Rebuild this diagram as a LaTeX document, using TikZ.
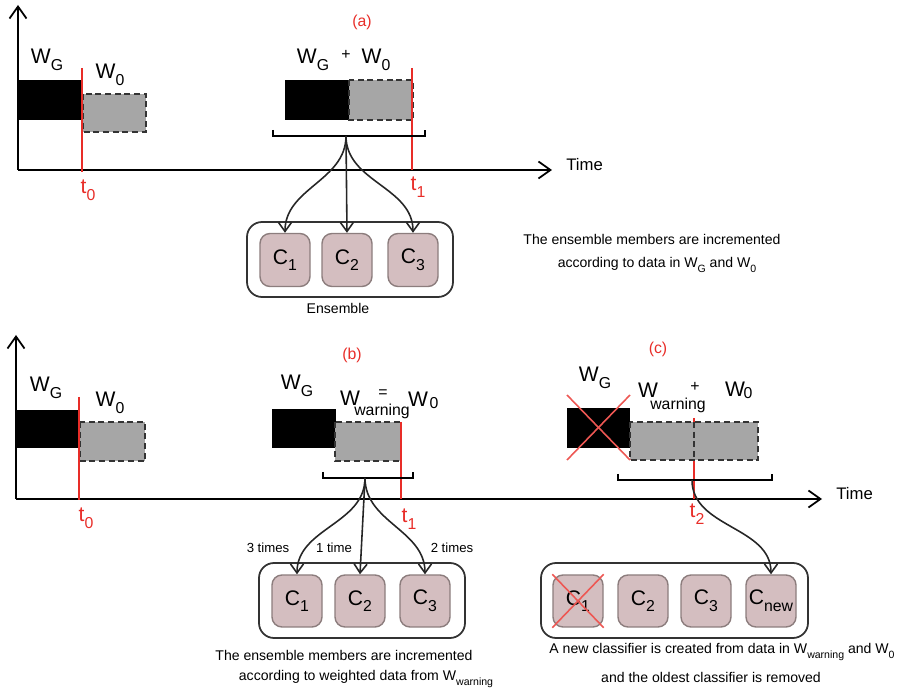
\documentclass[tikz,border=0pt]{standalone}
\usepackage{fontspec}
\setmainfont{Liberation Sans}
\usetikzlibrary{arrows.meta}

\newcommand{\lowsub}[1]{\raisebox{-0.6ex}{\scalebox{0.75}{#1}}}

\definecolor{tred}{RGB}{232,45,40}
\definecolor{wingray}{RGB}{166,166,166}
\definecolor{clsfill}{RGB}{212,190,192}
\definecolor{clsdraw}{RGB}{140,125,125}

\begin{document}
\begin{tikzpicture}[x=0.2mm, y=-0.2mm,
axis/.style={-{Straight Barb[length=2.4mm,width=3.4mm]}, line width=1pt},
old_win/.style={fill=black},
new_win/.style={fill=wingray, draw=black!80, line width=0.9pt, dash pattern=on 3.5pt off 2pt},
time_line/.style={draw=tred, line width=1pt},
bracket/.style={draw=black, line width=1pt},
cross/.style={draw=tred!80, line width=0.9pt},
cls/.style={rectangle, rounded corners=2mm, draw=clsdraw, fill=clsfill, line width=0.8pt, inner sep=0pt, minimum width=10mm, minimum height=10.6mm, font=\fontsize{12}{14}\selectfont},
ensemble/.style={rectangle, rounded corners=3mm, draw=black!80, line width=1pt, inner sep=0pt, minimum height=15mm},
grow_arrow/.style={-{Straight Barb[length=1.8mm,width=2.6mm]}, line width=0.9pt, black!85},
win_text/.style={font=\fontsize{12}{14}\selectfont, inner sep=0pt},
sub_text/.style={font=\fontsize{9}{11}\selectfont, inner sep=0pt},
red_text/.style={text=tred, font=\fontsize{12}{14}\selectfont, inner sep=0pt},
panel_text/.style={text=tred, font=\fontsize{9}{11}\selectfont, inner sep=0pt},
note/.style={font=\fontsize{8}{10}\selectfont, inner sep=0pt},
time_text/.style={font=\fontsize{9.5}{11}\selectfont, inner sep=0pt}
]
\useasboundingbox (0,0) rectangle (897,694);

% ---------------- (a) ----------------
\coordinate (orig_a) at (18,170);
\coordinate (yend_a) at (18,5);
\coordinate (xend_a) at (552,170);
\draw[axis] (orig_a) -- (yend_a);
\draw[axis] (orig_a) -- (xend_a);
\node[time_text, anchor=west] (time_a) at (566,165) {Time};
\node[panel_text] (panel_a) at (362,22) {(a)};

\fill[old_win] (18,80) rectangle (82,120);
\draw[new_win] (83,94) rectangle (146,132);
\draw[time_line] (82,68) -- (82,172);
\node[win_text] (wg_a1) at (47,60) {W\lowsub{G}};
\node[win_text] (w0_a1) at (110,75) {W\lowsub{0}};
\node[red_text] (t0_a) at (88,190) {t\lowsub{0}};

\fill[old_win] (285,80) rectangle (349,120);
\draw[new_win] (349,80) rectangle (413,120);
\draw[time_line] (412,68) -- (412,170);
\node[win_text] (wg_a2) at (313,60) {W\lowsub{G}};
\node[sub_text] (plus_a) at (346,55) {+};
\node[win_text] (w0_a2) at (376,60) {W\lowsub{0}};
\node[red_text] (t1_a) at (418,187) {t\lowsub{1}};

\draw[bracket] (273,130) -- (273,136) -- (425,136) -- (425,130);
\coordinate (br_a) at (346,136);

\node[ensemble, minimum width=41.2mm] (ens_a) at (350,259.5) {};
\node[cls] (c1_a) at (285,260) {C\lowsub{1}};
\node[cls] (c2_a) at (347,260) {C\lowsub{2}};
\node[cls] (c3_a) at (413,260) {C\lowsub{3}};
\node[note] (ens_lbl) at (338,308) {Ensemble};

\draw[grow_arrow] (br_a) to[out=-90, in=90] (c1_a.north);
\draw[grow_arrow] (br_a) -- (c2_a.north);
\draw[grow_arrow] (br_a) to[out=-90, in=90] (c3_a.north);

\node[note] (note_a1) at (652,239) {The ensemble members are incremented};
\node[note] (note_a2) at (657,265) {according to data in W\lowsub{G} and W\lowsub{0}};

% ---------------- (b) and (c) ----------------
\coordinate (orig_b) at (16,499);
\coordinate (yend_b) at (16,335);
\coordinate (xend_b) at (822,499);
\draw[axis] (orig_b) -- (yend_b);
\draw[axis] (orig_b) -- (xend_b);
\node[time_text, anchor=west] (time_b) at (836,494) {Time};
\node[panel_text] (panel_b) at (352,355) {(b)};
\node[panel_text] (panel_c) at (658,349) {(c)};

\fill[old_win] (16,410) rectangle (79,448);
\draw[new_win] (80,422) rectangle (145,461);
\draw[time_line] (79,397) -- (79,500);
\node[win_text] (wg_b1) at (46,388) {W\lowsub{G}};
\node[win_text] (w0_b1) at (110,403) {W\lowsub{0}};
\node[red_text] (t0_b) at (86,518) {t\lowsub{0}};

% (b) window
\fill[old_win] (272,409) rectangle (336,448);
\draw[new_win] (335,422) rectangle (401,461);
\draw[time_line] (401,422) -- (401,499);
\node[win_text] (wg_b2) at (297,386) {W\lowsub{G}};
\node[win_text] (ww_b) at (350,398) {W};
\node[sub_text] (eq_b) at (383,394) {=};
\node[sub_text] (wsub_b) at (382,411) {warning};
\node[win_text] (w_b) at (418,399) {W};
\node[sub_text] (zero_b) at (434,403) {0};
\node[red_text] (t1_b) at (409,519) {t\lowsub{1}};

\draw[bracket] (323,472) -- (323,478) -- (413,478) -- (413,472);
\coordinate (br_b) at (365,478);

\node[ensemble, minimum width=41.2mm] (ens_b) at (362,600.5) {};
\node[cls, minimum height=10.4mm] (c1_b) at (297,601) {C\lowsub{1}};
\node[cls, minimum height=10.4mm] (c2_b) at (360,601) {C\lowsub{2}};
\node[cls, minimum height=10.4mm] (c3_b) at (425,601) {C\lowsub{3}};

\draw[grow_arrow] (br_b) to[out=-90, in=90] (c1_b.north);
\draw[grow_arrow] (br_b) -- (c2_b.north);
\draw[grow_arrow] (br_b) to[out=-90, in=90] (c3_b.north);
\node[note, font=\fontsize{7.5}{9}\selectfont] (times_1) at (268,548) {3 times};
\node[note, font=\fontsize{7.5}{9}\selectfont] (times_2) at (334,548) {1 time};
\node[note, font=\fontsize{7.5}{9}\selectfont] (times_3) at (452,548) {2 times};

\node[note] (note_b1) at (344,655) {The ensemble members are incremented};
\node[note] (note_b2) at (366,679) {according to weighted data from W\lowsub{warning}};

% (c) window
\fill[old_win] (567,408) rectangle (630,448);
\draw[new_win] (630,422) rectangle (758,460);
\draw[black!80, line width=0.9pt, dash pattern=on 3.5pt off 2pt] (694,422) -- (694,460);
\draw[cross] (567,395) -- (630,460);
\draw[cross] (630,395) -- (567,460);
\draw[time_line] (694,418) -- (694,422);
\draw[time_line] (694,461) -- (694,499);
\node[win_text] (wg_c) at (595,378) {W\lowsub{G}};
\node[win_text] (ww_c) at (648,390) {W};
\node[sub_text] (plus_c) at (695,387) {+};
\node[sub_text] (wsub_c) at (678,405) {warning};
\node[win_text] (w_c) at (735,389) {W};
\node[sub_text] (zero_c) at (748,393) {0};
\node[red_text] (t2_c) at (697,514) {t\lowsub{2}};

\draw[bracket] (618,474) -- (618,480) -- (772,480) -- (772,474);
\coordinate (br_c) at (692,480);

\node[ensemble, minimum width=53.4mm] (ens_c) at (674.5,600.5) {};
\node[cls, minimum height=10.4mm] (c1_c) at (578,601) {C\lowsub{1}};
\node[cls, minimum height=10.4mm] (c2_c) at (643,601) {C\lowsub{2}};
\node[cls, minimum height=10.4mm] (c3_c) at (706,601) {C\lowsub{3}};
\node[cls, minimum height=10.4mm] (cnew_c) at (771,601) {C\lowsub{new}};
\draw[cross] (c1_c.north west) -- (c1_c.south east);
\draw[cross] (c1_c.north east) -- (c1_c.south west);

\draw[grow_arrow] (br_c) to[out=-90, in=90] (cnew_c.north);

\node[note] (note_c1) at (722,652) {A new classifier is created from data in W\lowsub{warning} and W\lowsub{0}};
\node[note] (note_c2) at (711,677) {and the oldest classifier is removed};
\end{tikzpicture}
\end{document}
